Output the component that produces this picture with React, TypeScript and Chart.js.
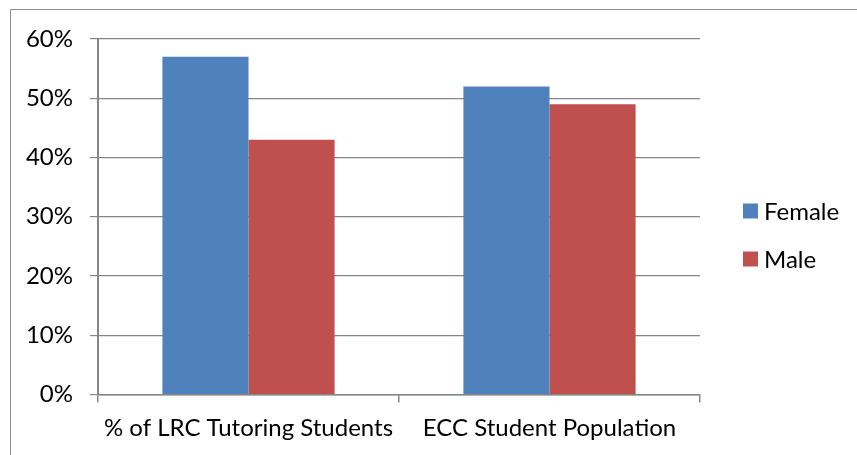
import React, { useEffect, useRef } from "react";
import { Chart, registerables } from "chart.js";

Chart.register(...registerables);

const categories = ["% of LRC Tutoring Students", "ECC Student Population"];
const seriesNames = ["Female", "Male"];
const femaleValues = [57, 52];
const maleValues = [43, 49];
const seriesColors = ["#4F81BD", "#C0504D"];

const FONT = "Lato, 'Liberation Sans', sans-serif";
const FONT_SIZE = 24;
const AXIS_GRAY = "#868686";

// Outer frame of the chart object (top and left edges visible)
const framePlugin = {
  id: "frame",
  beforeDraw(chart: any) {
    const { ctx, width, height } = chart;
    ctx.save();
    ctx.strokeStyle = "#8c8c8c";
    ctx.lineWidth = 1;
    ctx.beginPath();
    ctx.moveTo(10.5, height);
    ctx.lineTo(10.5, 9.5);
    ctx.lineTo(width, 9.5);
    ctx.stroke();
    ctx.restore();
  },
};

// Legend to the right of the plot: square swatch + series name
const sideLegendPlugin = {
  id: "sideLegend",
  afterDraw(chart: any) {
    const { ctx } = chart;
    const x = 743;
    const firstY = 211;
    const step = 48;
    ctx.save();
    ctx.font = `${FONT_SIZE}px ${FONT}`;
    ctx.textBaseline = "middle";
    ctx.textAlign = "left";
    chart.data.datasets.forEach((ds: any, i: number) => {
      const y = firstY + i * step;
      ctx.fillStyle = ds.backgroundColor;
      ctx.fillRect(x, y - 7.5, 15, 15);
      ctx.fillStyle = "#000";
      ctx.fillText(ds.label, x + 21, y + 1);
    });
    ctx.restore();
  },
};

export default function App() {
  const canvasRef = useRef<HTMLCanvasElement | null>(null);

  useEffect(() => {
    document.body.style.margin = "0";
    const canvas = canvasRef.current;
    if (!canvas) return;
    const chart = new Chart(canvas, {
      type: "bar",
      data: {
        labels: categories,
        datasets: [
          {
            label: seriesNames[0],
            data: femaleValues,
            backgroundColor: seriesColors[0],
            borderWidth: 0,
          },
          {
            label: seriesNames[1],
            data: maleValues,
            backgroundColor: seriesColors[1],
            borderWidth: 0,
          },
        ],
      },
      options: {
        animation: false,
        responsive: false,
        maintainAspectRatio: false,
        layout: { padding: { left: 0, right: 157, top: 39, bottom: 0 } },
        datasets: {
          bar: { categoryPercentage: 0.572, barPercentage: 1 },
        },
        plugins: {
          legend: { display: false },
          tooltip: { enabled: false },
        },
        scales: {
          x: {
            afterFit(scale: any) {
              scale.height = 60.5;
            },
            grid: {
              offset: true,
              drawOnChartArea: false,
              drawTicks: true,
              tickLength: 8,
              color: AXIS_GRAY,
              lineWidth: 1.5,
            },
            border: { display: true, color: AXIS_GRAY, width: 1.5 },
            ticks: {
              color: "#000",
              padding: 11,
              font: { family: FONT, size: FONT_SIZE },
              maxRotation: 0,
              autoSkip: false,
            },
          },
          y: {
            min: 0,
            max: 60,
            afterFit(scale: any) {
              scale.width = 98;
            },
            grid: {
              color: AXIS_GRAY,
              lineWidth: 1.2,
              drawTicks: true,
              tickLength: 8,
            },
            border: { display: true, color: AXIS_GRAY, width: 2 },
            ticks: {
              stepSize: 10,
              color: "#000",
              padding: 17,
              font: { family: FONT, size: FONT_SIZE },
              callback: (v: any) => `${v}%`,
            },
          },
        },
      },
      plugins: [framePlugin, sideLegendPlugin],
    });
    return () => chart.destroy();
  }, []);

  return <canvas ref={canvasRef} width={857} height={455} style={{ display: "block" }} />;
}
